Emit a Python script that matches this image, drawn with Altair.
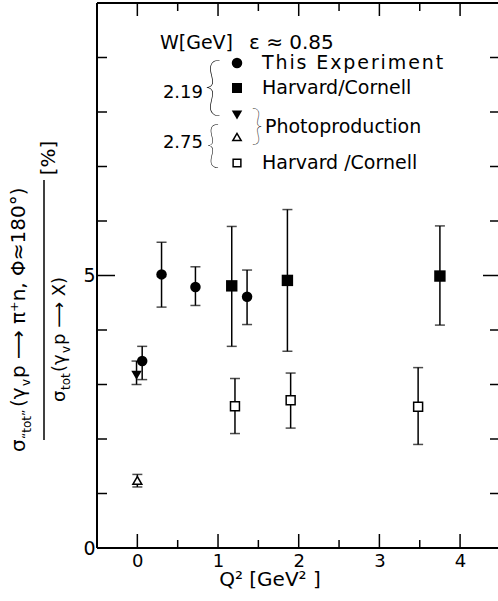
import altair as alt
import pandas as pd

# ---------------- data ----------------
# W = 2.19 GeV, This Experiment (filled circles)
exp_q2 = [0.06, 0.30, 0.72, 1.36]
exp_val = [3.43, 5.02, 4.79, 4.61]
exp_lo = [3.09, 4.42, 4.45, 4.10]
exp_hi = [3.70, 5.61, 5.16, 5.10]

# W = 2.19 GeV, Harvard/Cornell (filled squares)
hc219_q2 = [1.17, 1.86, 3.75]
hc219_val = [4.81, 4.91, 4.99]
hc219_lo = [3.70, 3.61, 4.09]
hc219_hi = [5.90, 6.21, 5.91]

# Photoproduction W = 2.19 (filled triangle down) and W = 2.75 (open triangle up)
ph219_q2 = [-0.01]
ph219_val = [3.17]
ph219_lo = [3.00]
ph219_hi = [3.43]

ph275_q2 = [0.0]
ph275_val = [1.24]
ph275_lo = [1.12]
ph275_hi = [1.35]

# W = 2.75 GeV, Harvard/Cornell (open squares)
hc275_q2 = [1.21, 1.90, 3.48]
hc275_val = [2.60, 2.71, 2.59]
hc275_lo = [2.10, 2.20, 1.90]
hc275_hi = [3.11, 3.21, 3.31]

x_tick_labels = [0, 1, 2, 3, 4]
x_minor = [0.5, 1.5, 2.5, 3.5]
y_tick_labels = [0, 5]
y_minor = [1, 2, 3, 4, 6, 7, 8, 9]
y_long = [5]

legend_head = ["W[GeV]", "ε ≈ 0.85"]
legend_texts = ["T\u200ah\u200ai\u200as\u2009 E\u200ax\u200ap\u200ae\u200ar\u200ai\u200am\u200ae\u200an\u200at",
                "Harvard/Cornell", "Photoproduction", "Harvard /Cornell"]
w_values = ["2.19", "2.75"]

FONT = "DejaVu Sans"


def series_df(name, q2, val, lo, hi):
    return pd.DataFrame({"series": name, "q2": q2, "val": val, "lo": lo, "hi": hi})


data = pd.concat([
    series_df("exp", exp_q2, exp_val, exp_lo, exp_hi),
    series_df("hc219", hc219_q2, hc219_val, hc219_lo, hc219_hi),
    series_df("ph219", ph219_q2, ph219_val, ph219_lo, ph219_hi),
    series_df("ph275", ph275_q2, ph275_val, ph275_lo, ph275_hi),
    series_df("hc275", hc275_q2, hc275_val, hc275_lo, hc275_hi),
], ignore_index=True)

W, H = 401, 545

xs = alt.Scale(domain=[-0.5, 4.47], nice=False, zero=False)
ys = alt.Scale(domain=[0, 10], nice=False, zero=False)
XAX = alt.Axis(values=x_tick_labels, title=None, domain=False, ticks=False, grid=False,
               labelFont=FONT, labelFontSize=18, labelColor="black", labelPadding=4, format="d")
YAX = alt.Axis(values=y_tick_labels, title=None, domain=False, ticks=False, grid=False,
               labelFont=FONT, labelFontSize=19, labelColor="black", labelPadding=2, format="d")
X = alt.X("q2:Q", scale=xs, axis=XAX)
Y = alt.Y("val:Q", scale=ys, axis=YAX)

base = alt.Chart(data)
bars = base.mark_rule(color="black", strokeWidth=1.5).encode(
    x=X, y=alt.Y("lo:Q", scale=ys, axis=YAX), y2="hi:Q")
cap_hi = base.mark_tick(color="black", orient="horizontal", size=10, thickness=1.5).encode(
    x=X, y=alt.Y("hi:Q", scale=ys, axis=YAX))
cap_lo = base.mark_tick(color="black", orient="horizontal", size=10, thickness=1.5).encode(
    x=X, y=alt.Y("lo:Q", scale=ys, axis=YAX))


def pts(name, shape, size, open_=False):
    f = base.transform_filter(alt.datum.series == name)
    if open_:
        m = f.mark_point(shape=shape, size=size, filled=True, fill="white",
                         stroke="black", strokeWidth=1.5, opacity=1)
    else:
        m = f.mark_point(shape=shape, size=size, filled=True, color="black", opacity=1)
    return m.encode(x=X, y=Y)


points = [
    pts("exp", "circle", 110),
    pts("hc219", "square", 130),
    pts("ph219", "triangle-down", 110),
    pts("ph275", "triangle-up", 80, True),
    pts("hc275", "square", 80, True),
]

# ---------------- frame and inward ticks ----------------
one = pd.DataFrame({"d": [0]})
frame = [
    alt.Chart(one).mark_rule(color="black", strokeWidth=2).encode(
        x=alt.value(0), y=alt.value(0), y2=alt.value(H)),
    alt.Chart(one).mark_rule(color="black", strokeWidth=2).encode(
        x=alt.value(0), x2=alt.value(W), y=alt.value(H)),
    alt.Chart(one).mark_rule(color="black", strokeWidth=2).encode(
        x=alt.value(0), x2=alt.value(W), y=alt.value(0)),
]

xmaj = alt.Chart(pd.DataFrame({"q2": x_tick_labels}))
xmin = alt.Chart(pd.DataFrame({"q2": x_minor}))
ymin = alt.Chart(pd.DataFrame({"val": y_minor}))
ylng = alt.Chart(pd.DataFrame({"val": y_long}))
tk = dict(color="black", strokeWidth=1.5)
ticks = [
    xmaj.mark_rule(**tk).encode(x=X, y=alt.value(H), y2=alt.value(H - 14)),
    xmin.mark_rule(**tk).encode(x=X, y=alt.value(H), y2=alt.value(H - 8)),
    xmaj.mark_rule(**tk).encode(x=X, y=alt.value(0), y2=alt.value(13)),
    xmin.mark_rule(**tk).encode(x=X, y=alt.value(0), y2=alt.value(8)),
    ymin.mark_rule(**tk).encode(y=Y, x=alt.value(0), x2=alt.value(10)),
    ylng.mark_rule(**tk).encode(y=Y, x=alt.value(0), x2=alt.value(18)),
    ymin.mark_rule(**tk).encode(y=Y, x=alt.value(W), x2=alt.value(W - 8)),
    ylng.mark_rule(**tk).encode(y=Y, x=alt.value(W), x2=alt.value(W - 15)),
]


def txt(s, x, y, size=19, align="left", angle=0, baseline="middle", font=FONT, weight="normal"):
    kw = dict(text=s, fontSize=size, align=align, baseline=baseline, font=font,
              fontWeight=weight, color="black")
    if angle:
        kw["angle"] = angle
    return alt.Chart(one).mark_text(**kw).encode(x=alt.value(x), y=alt.value(y))


def sym(x, y, shape, size, open_=False):
    if open_:
        return alt.Chart(one).mark_point(shape=shape, size=size, filled=True, fill="white",
                                         stroke="black", strokeWidth=1.5, opacity=1).encode(
            x=alt.value(x), y=alt.value(y))
    return alt.Chart(one).mark_point(shape=shape, size=size, filled=True, color="black",
                                     opacity=1).encode(x=alt.value(x), y=alt.value(y))


legend = [
    txt(legend_head[0], 63, 40),
    txt(legend_head[1], 152, 40, size=20),
    sym(140, 60, "circle", 110),
    txt(legend_texts[0], 165, 60),
    sym(140, 85, "square", 100),
    txt(legend_texts[1], 165, 85),
    sym(140, 112, "triangle-down", 110),
    sym(140, 134, "triangle-up", 70, True),
    txt("}", 160, 124, size=42, align="center", font="Lato", weight=100),
    txt(legend_texts[2], 168, 124),
    sym(140, 160, "square", 60, True),
    txt(legend_texts[3], 165, 160),
    txt(w_values[0], 106, 90, size=18, align="right"),
    txt("{", 116, 86, size=64, align="center", font="Lato", weight=100),
    txt(w_values[1], 106, 140, size=18, align="right"),
    txt("{", 116, 144, size=50, align="center", font="Lato", weight=100),
]

# ---------------- axis titles ----------------
yt = [
    txt("σ", -72, 449, size=20, angle=270, baseline="alphabetic"),
    txt("“tot”", -66, 436, size=12, angle=270, baseline="alphabetic"),
    txt("(γ", -72, 404, size=20, angle=270, baseline="alphabetic"),
    txt("v", -67, 383, size=12, angle=270, baseline="alphabetic"),
    txt("p ⟶ π⁺n, Φ≈180°)", -72, 375, size=20, angle=270, baseline="alphabetic"),
    alt.Chart(one).mark_rule(color="black", strokeWidth=1.5).encode(
        x=alt.value(-53), y=alt.value(177), y2=alt.value(437)),
    txt("σ", -32, 399, size=18, angle=270, baseline="alphabetic"),
    txt("tot", -27, 387, size=12, angle=270, baseline="alphabetic"),
    txt("(γ", -32, 369, size=18, angle=270, baseline="alphabetic"),
    txt("v", -27, 350, size=12, angle=270, baseline="alphabetic"),
    txt("p ⟶ X)", -32, 342, size=18, angle=270, baseline="alphabetic"),
    txt("[%]", -42, 155, size=20, angle=270, baseline="alphabetic", align="center"),
]
xt = [txt("Q² [GeV²  ]", 173, 577, size=20, align="center")]

chart = alt.layer(
    *frame, *ticks, bars, cap_hi, cap_lo, *points, *legend, *yt, *xt
).properties(
    width=W, height=H,
    autosize=alt.AutoSizeParams(type="none"),
    padding={"left": 97, "top": 3, "right": 0, "bottom": 53},
    background="white",
).configure_view(stroke=None)

chart.save("out.html", embed_options={"renderer": "svg", "actions": False})
